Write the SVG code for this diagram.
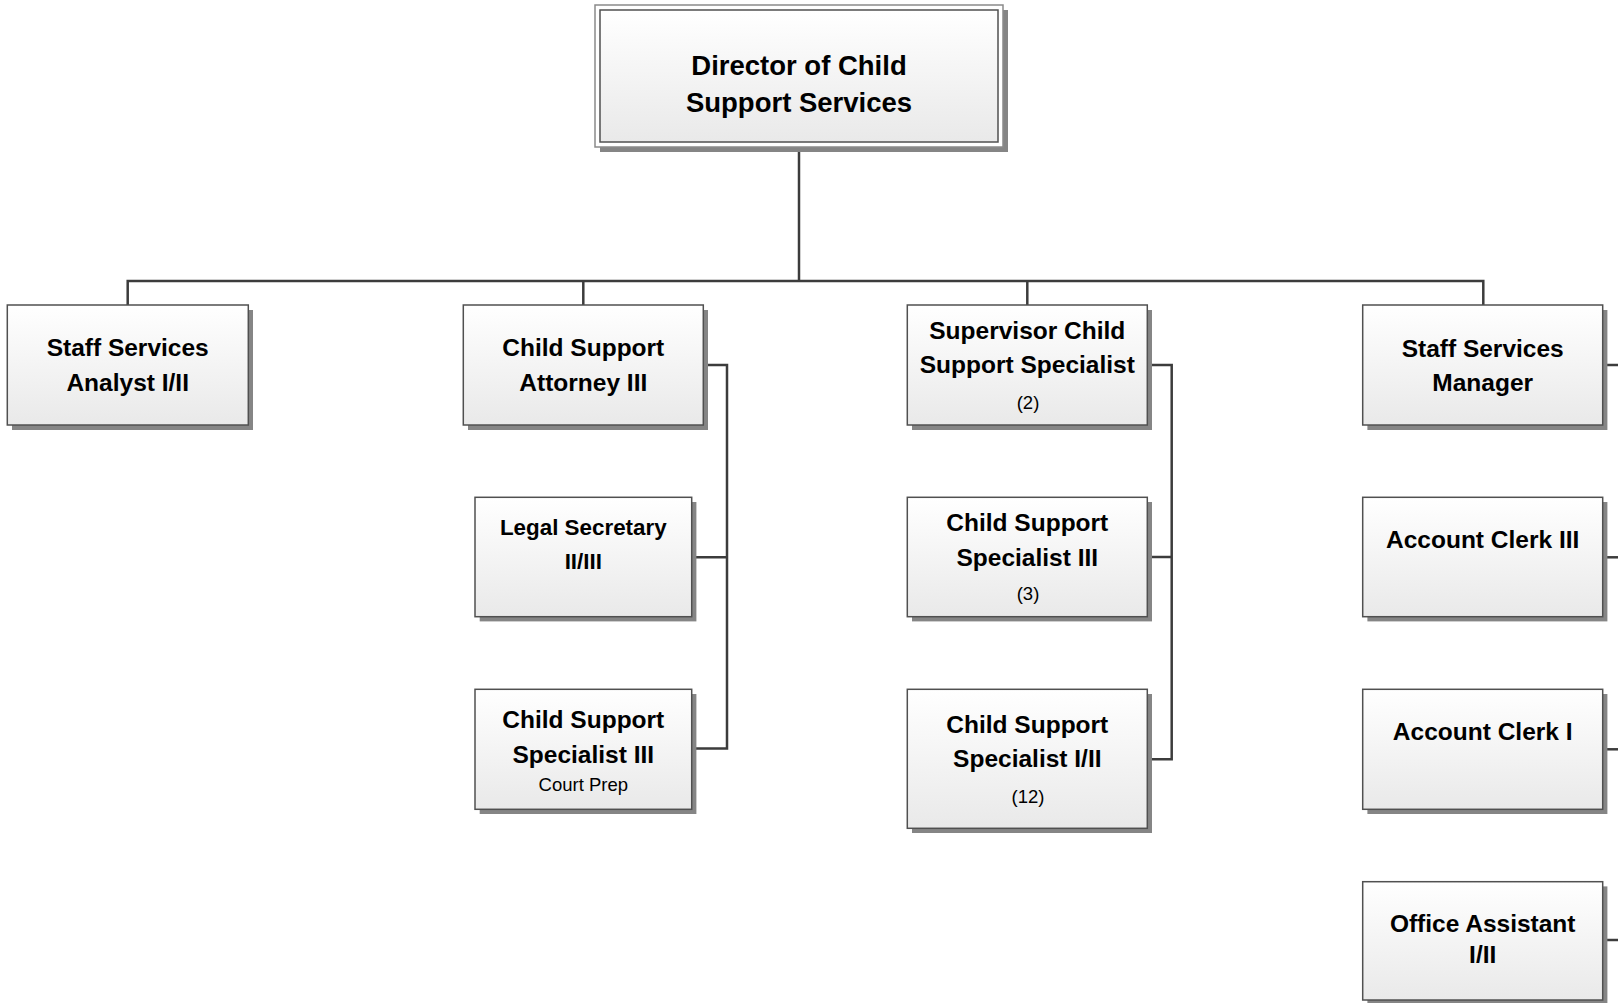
<svg xmlns="http://www.w3.org/2000/svg" width="1618" height="1003" viewBox="0 0 1618 1003">
<defs>
<linearGradient id="g" x1="0" y1="0" x2="0" y2="1">
<stop offset="0" stop-color="#ffffff"/>
<stop offset="1" stop-color="#e9e9e9"/>
</linearGradient>
</defs>
<style>
.sh{fill:#858585}
.bx{fill:url(#g);stroke:#505050;stroke-width:1.5}
.ob{fill:#ffffff;stroke:#8a8a8a;stroke-width:1.5}
.t{font-family:"Liberation Sans",Arial,sans-serif;font-weight:bold;font-size:24.5px;fill:#000;text-anchor:middle}
.tb{font-size:27.5px}
.ts{font-size:22.4px}
.s{font-family:"Liberation Sans",Arial,sans-serif;font-size:18.5px;fill:#000;text-anchor:middle}
.c{fill:none;stroke:#3c3c3c;stroke-width:2.5}
</style>
<rect width="1618" height="1003" fill="#ffffff"/>
<g id="connectors">
<path class="c" d="M799 147 V281"/>
<path class="c" d="M127.7 305 V281 H1483.3 V305"/>
<path class="c" d="M583.3 281 V305"/>
<path class="c" d="M1027.3 281 V305"/>
<path class="c" d="M703.3 365 H727 V748.5 H691.7"/>
<path class="c" d="M691.7 557.3 H727"/>
<path class="c" d="M1147.3 365 H1171.7 V759.3 H1147.3"/>
<path class="c" d="M1147.3 557 H1171.7"/>
<path class="c" d="M1602.7 365 H1618"/>
<path class="c" d="M1602.7 557.3 H1618"/>
<path class="c" d="M1602.7 749.3 H1618"/>
<path class="c" d="M1602.7 940 H1618"/>
</g>
<g id="director">
<rect class="sh" x="600" y="10" width="408" height="142"/>
<rect class="ob" x="595" y="5" width="408" height="142"/>
<rect class="bx" x="600" y="10" width="398" height="132"/>
<text class="t tb" x="799" y="75">Director of Child</text>
<text class="t tb" x="799" y="112">Support Services</text>
</g>
<g id="analyst">
<rect class="sh" x="12" y="310" width="241" height="120"/>
<rect class="bx" x="7.3" y="305" width="241" height="120"/>
<text class="t" x="127.7" y="356">Staff Services</text>
<text class="t" x="127.7" y="391">Analyst I/II</text>
</g>
<g id="attorney">
<rect class="sh" x="468" y="310" width="240" height="120"/>
<rect class="bx" x="463.3" y="305" width="240" height="120"/>
<text class="t" x="583.3" y="356">Child Support</text>
<text class="t" x="583.3" y="390.5">Attorney III</text>
</g>
<g id="supervisor">
<rect class="sh" x="912" y="310" width="240" height="120"/>
<rect class="bx" x="907.3" y="305" width="240" height="120"/>
<text class="t" x="1027.3" y="338.5">Supervisor Child</text>
<text class="t" x="1027.3" y="373">Support Specialist</text>
<text class="s" x="1028" y="409">(2)</text>
</g>
<g id="ssmanager">
<rect class="sh" x="1367.4" y="310" width="240" height="120"/>
<rect class="bx" x="1362.7" y="305" width="240" height="120"/>
<text class="t" x="1482.7" y="356.5">Staff Services</text>
<text class="t" x="1482.7" y="390.5">Manager</text>
</g>
<g id="legalsec">
<rect class="sh" x="479.7" y="502" width="216.7" height="119.4"/>
<rect class="bx" x="475" y="497.3" width="216.7" height="119.4"/>
<text class="t ts" x="583.3" y="535">Legal Secretary</text>
<text class="t ts" x="583.3" y="568.5">II/III</text>
</g>
<g id="cssiii-court">
<rect class="sh" x="479.7" y="694" width="216.7" height="120"/>
<rect class="bx" x="475" y="689.3" width="216.7" height="120"/>
<text class="t" x="583.3" y="728">Child Support</text>
<text class="t" x="583.3" y="763">Specialist III</text>
<text class="s" x="583.3" y="791">Court Prep</text>
</g>
<g id="cssiii">
<rect class="sh" x="912" y="502" width="240" height="119.4"/>
<rect class="bx" x="907.3" y="497.3" width="240" height="119.4"/>
<text class="t" x="1027.3" y="531">Child Support</text>
<text class="t" x="1027.3" y="565.5">Specialist III</text>
<text class="s" x="1028" y="599.5">(3)</text>
</g>
<g id="cssi-ii">
<rect class="sh" x="912" y="694" width="240" height="139"/>
<rect class="bx" x="907.3" y="689.3" width="240" height="139"/>
<text class="t" x="1027.3" y="733">Child Support</text>
<text class="t" x="1027.3" y="767">Specialist I/II</text>
<text class="s" x="1028" y="803">(12)</text>
</g>
<g id="acctclerk3">
<rect class="sh" x="1367.4" y="502" width="240" height="119.4"/>
<rect class="bx" x="1362.7" y="497.3" width="240" height="119.4"/>
<text class="t" x="1482.7" y="548">Account Clerk III</text>
</g>
<g id="acctclerk1">
<rect class="sh" x="1367.4" y="694" width="240" height="120"/>
<rect class="bx" x="1362.7" y="689.3" width="240" height="120"/>
<text class="t" x="1482.7" y="740">Account Clerk I</text>
</g>
<g id="officeasst">
<rect class="sh" x="1367.4" y="886.4" width="240" height="118.3"/>
<rect class="bx" x="1362.7" y="881.7" width="240" height="118.3"/>
<text class="t" x="1482.7" y="931.5">Office Assistant</text>
<text class="t" x="1482.7" y="963">I/II</text>
</g>
</svg>
